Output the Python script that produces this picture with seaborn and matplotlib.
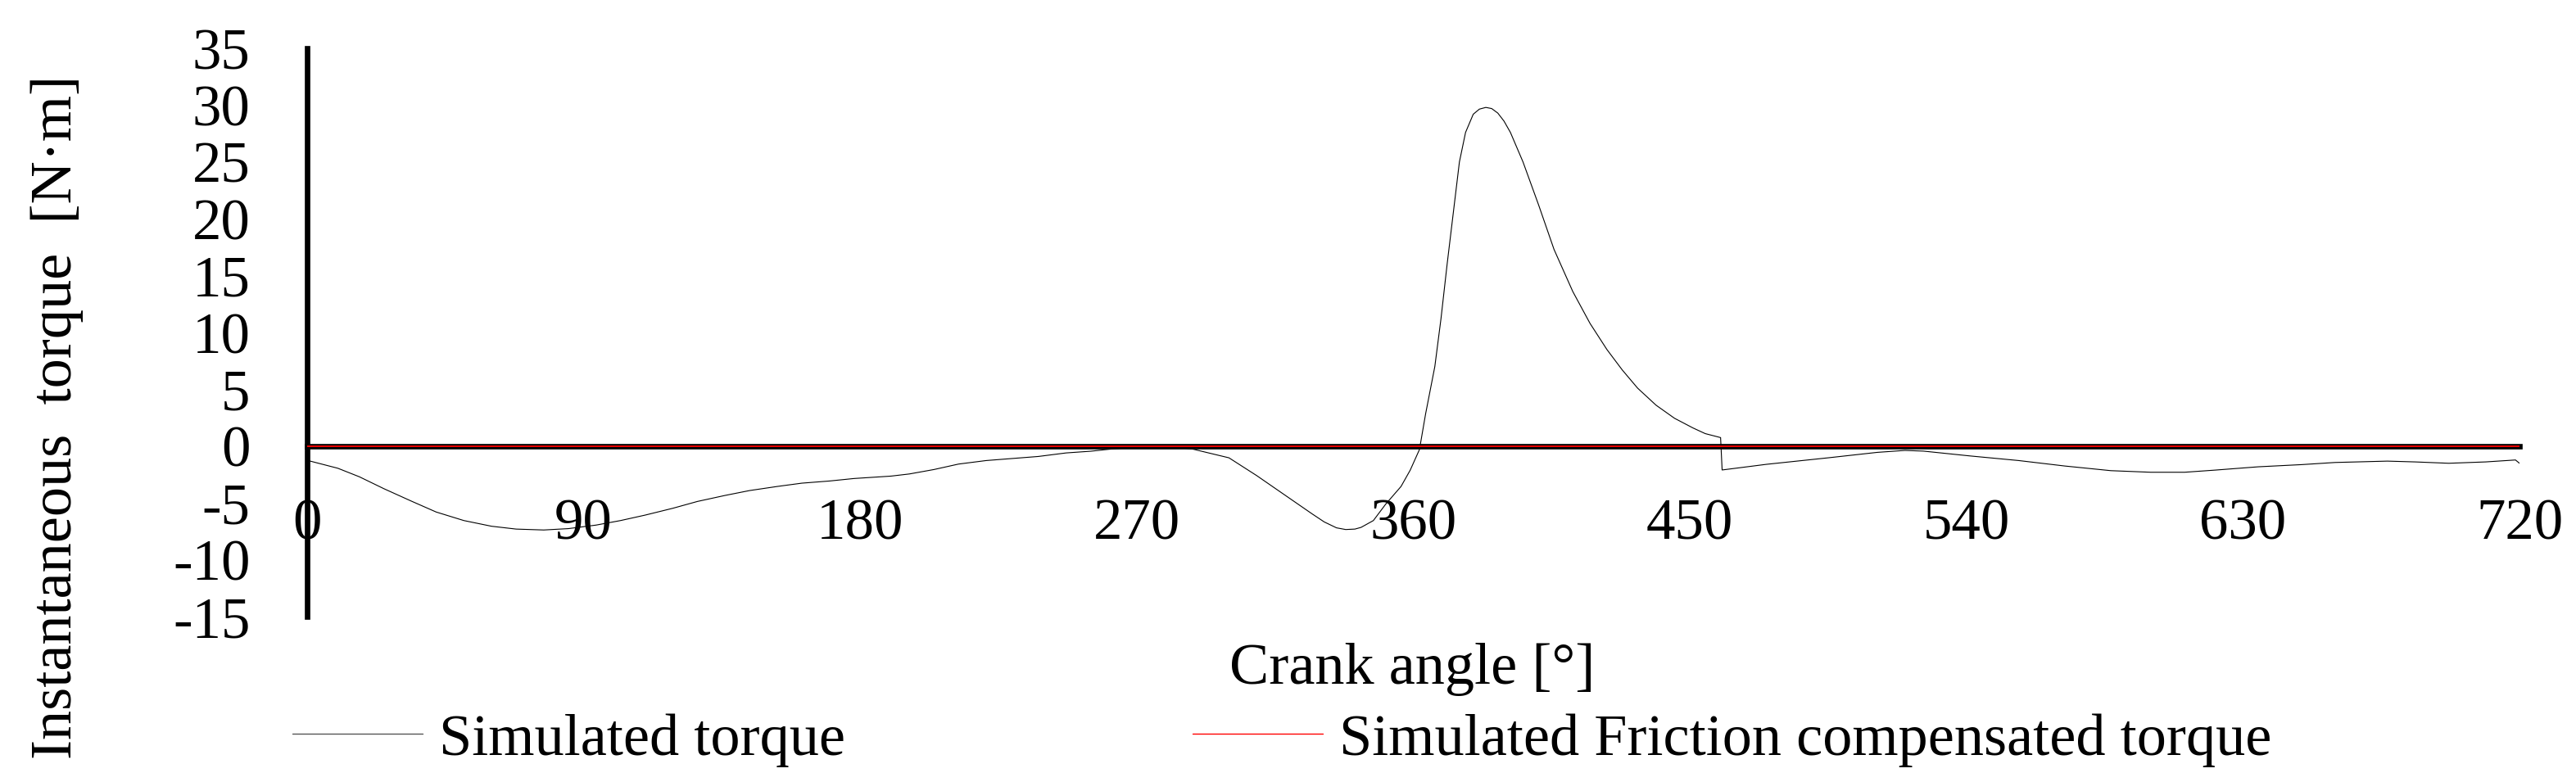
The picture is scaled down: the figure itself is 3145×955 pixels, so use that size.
import matplotlib
matplotlib.use("Agg")
import matplotlib.pyplot as plt
import seaborn as sns
import pandas as pd

# ---- data ----
crank_angle = [0, 10, 17, 25, 34, 42, 51, 60, 68, 77, 85, 94, 102, 110, 119, 127,
               136, 144, 153, 161, 170, 178, 190, 196, 204, 212, 221, 238, 247, 255,
               262, 270, 280, 288, 300, 309, 318, 327, 331, 335, 338, 341, 343, 347, 351,
               356, 359, 362, 364, 367, 369, 371, 373, 375, 377, 379.5, 381.5, 383.6,
               385.5, 387.5, 389.5, 391.6, 395.7, 400.8, 405.8, 411.9, 417.5, 423, 428,
               433, 439, 445, 451, 455, 460, 460.5, 475, 495, 511, 520, 526, 541, 557,
               572, 587, 600, 611, 621, 635, 649, 660, 677, 686, 697, 709, 718.7, 720]
simulated_torque = [-1.25, -1.95, -2.7, -3.75, -4.85, -5.8, -6.55, -7.05, -7.3, -7.38,
                    -7.26, -6.95, -6.55, -6.07, -5.47, -4.87, -4.34, -3.91, -3.55, -3.26,
                    -3.07, -2.85, -2.64, -2.45, -2.06, -1.58, -1.27, -0.91, -0.6, -0.45,
                    -0.25, -0.1, -0.05, -0.25, -1.03, -2.59, -4.27, -5.95, -6.67, -7.19,
                    -7.34, -7.3, -7.15, -6.55, -5.11, -3.55, -2.11, -0.3, 2.84, 7.0, 11.2,
                    16.0, 20.5, 25.0, 27.6, 29.2, 29.65, 29.8, 29.7, 29.3, 28.6, 27.6,
                    25.0, 21.2, 17.3, 13.6, 10.8, 8.5, 6.7, 5.1, 3.6, 2.45, 1.6, 1.1,
                    0.75, -2.1, -1.6, -1.03, -0.55, -0.38, -0.44, -0.86, -1.27, -1.75,
                    -2.16, -2.3, -2.3, -2.11, -1.82, -1.63, -1.44, -1.32, -1.39, -1.51,
                    -1.39, -1.22, -1.51]
friction_angle = [0, 720]
friction_torque = [0.0, 0.0]

x_ticks = [0, 90, 180, 270, 360, 450, 540, 630, 720]
y_ticks = [-15, -10, -5, 0, 5, 10, 15, 20, 25, 30, 35]

series_names = ["Simulated torque", "Simulated Friction compensated torque"]
x_title = "Crank angle [°]"
y_title = "Instantaneous  torque  [N·m]"

# ---- style ----
sns.set_theme(style="white")
plt.rcParams["font.family"] = ["Liberation Serif", "DejaVu Serif"]
plt.rcParams["text.color"] = "black"
plt.rcParams["xtick.color"] = "black"
plt.rcParams["ytick.color"] = "black"

W, H = 3145, 955
fig = plt.figure(figsize=(W / 100, H / 100), dpi=100)
ax = fig.add_axes([375 / W, 1 - 753 / H, (3076 - 375) / W, (753 - 59) / H])

df_sim = pd.DataFrame({"angle": crank_angle, "torque": simulated_torque})
df_fric = pd.DataFrame({"angle": friction_angle, "torque": friction_torque})

sns.lineplot(data=df_sim, x="angle", y="torque", ax=ax, color="black",
             linewidth=0.8, estimator=None, sort=True, zorder=2)
sns.lineplot(data=df_fric, x="angle", y="torque", ax=ax, color="#ff0000",
             linewidth=1.3, estimator=None, sort=True, zorder=4)

ax.set_xlim(0, 720)
ax.set_ylim(-15, 35)
ax.set_xticks(x_ticks)
ax.set_yticks(y_ticks)
ax.set_xticklabels([str(v) for v in x_ticks])
ax.set_yticklabels([str(v) for v in y_ticks])
ax.set_xlabel("")
ax.set_ylabel("")

for s in ["top", "right"]:
    ax.spines[s].set_visible(False)
ax.spines["bottom"].set_position(("data", 0))
ax.spines["left"].set_position(("data", 0))
for s in ["bottom", "left"]:
    ax.spines[s].set_linewidth(4.8)
    ax.spines[s].set_color("black")
    ax.spines[s].set_zorder(3)

ax.tick_params(axis="x", length=0, pad=46, labelsize=51)
ax.tick_params(axis="y", length=0, pad=50, labelsize=51)
ax.grid(False)
ax.patch.set_visible(False)

fig.text(70 / W, 1 - 509 / H, y_title, rotation=90, ha="center", va="center",
         fontsize=52)
fig.text(1724 / W, 1 - 818 / H, x_title, ha="center", va="center", fontsize=52)

lines = ax.get_lines()
leg1 = fig.legend([lines[0]], [series_names[0]], loc="center left",
                  bbox_to_anchor=(357 / W, 1 - 904 / H), frameon=False,
                  fontsize=52, handlelength=2.2, handletextpad=0.28,
                  borderpad=0, borderaxespad=0)
leg2 = fig.legend([lines[1]], [series_names[1]], loc="center left",
                  bbox_to_anchor=(1456 / W, 1 - 904 / H), frameon=False,
                  fontsize=52, handlelength=2.2, handletextpad=0.28,
                  borderpad=0, borderaxespad=0)
for lg in (leg1, leg2):
    for ln in lg.get_lines():
        ln.set_linewidth(1.0)
leg1.get_lines()[0].set_color("#555555")

fig.savefig("out.png", dpi=100, facecolor="white")
